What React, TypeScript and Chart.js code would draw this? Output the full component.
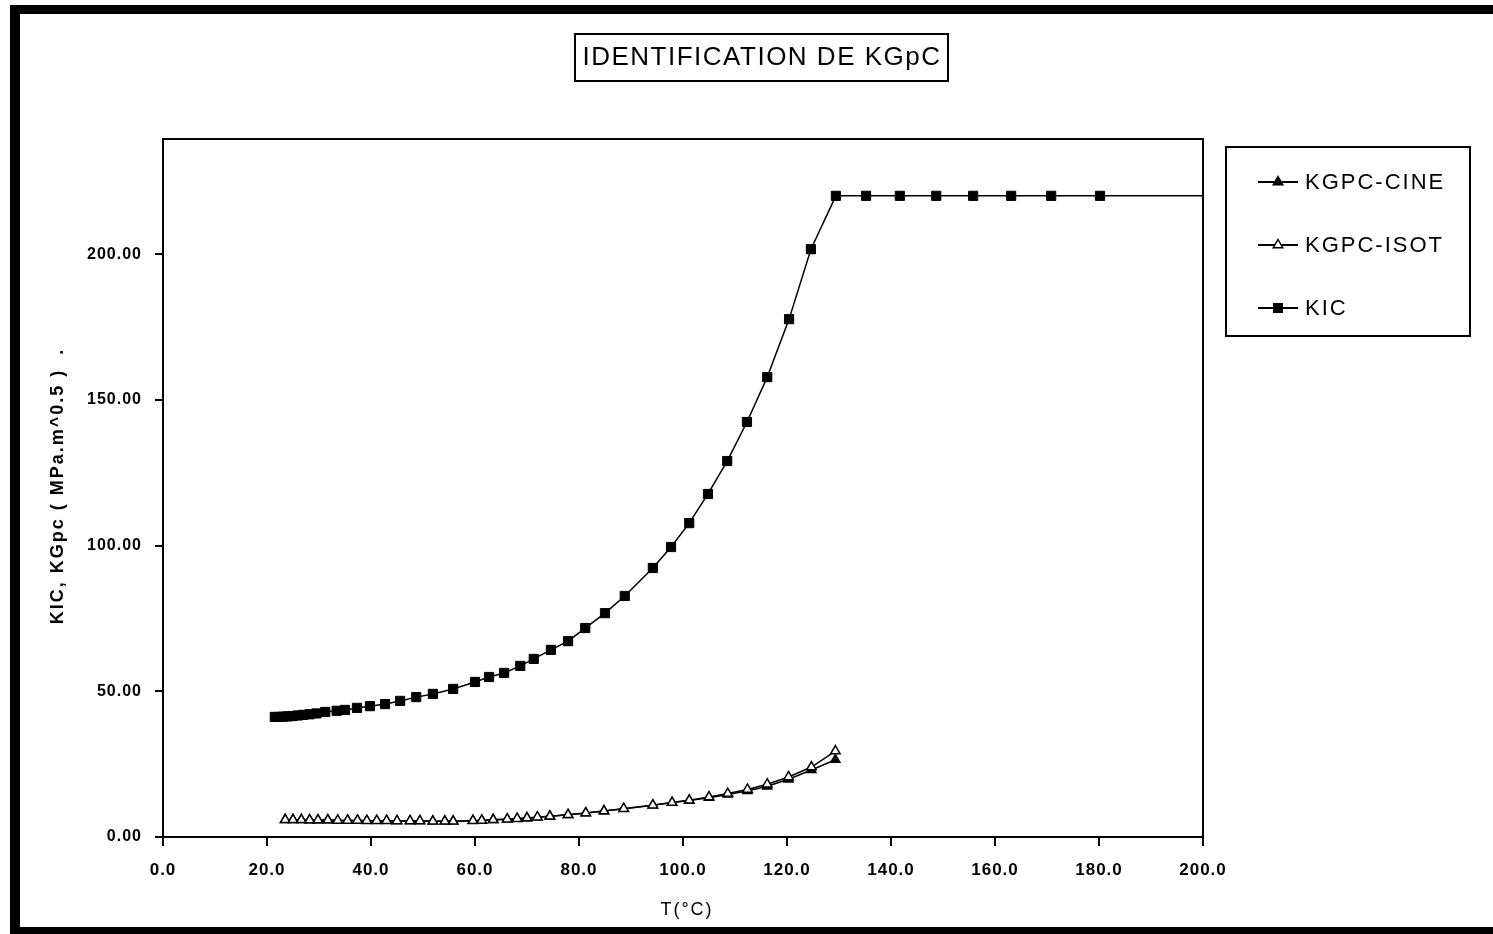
import React, { useEffect, useRef } from 'react';
import { Chart, registerables } from 'chart.js';

Chart.register(...registerables);

const chartTitle = 'IDENTIFICATION DE KGpC';
const xTitle = 'T(°C)';
const yTitle = 'KIC, KGpc ( MPa.m^0.5 )  .';
const legendLabels = ['KGPC-CINE', 'KGPC-ISOT', 'KIC'];

const kicT = [21.5, 22.3, 23.1, 24.0, 24.9, 25.9, 27.0, 28.2, 29.5, 31.2, 33.4, 35.0, 37.3, 39.8, 42.7, 45.6, 48.7, 51.9, 55.8, 60.0, 62.7, 65.6, 68.7, 71.3, 74.6, 77.9, 81.2, 85.0, 88.8, 94.2, 97.7, 101.2, 104.8, 108.5, 112.3, 116.2, 120.4, 124.6, 129.4, 135.2, 141.7, 148.7, 155.8, 163.1, 170.8, 180.2, 210];
const kicV = [41.2, 41.2, 41.3, 41.4, 41.5, 41.7, 41.9, 42.1, 42.4, 42.9, 43.3, 43.6, 44.3, 44.9, 45.6, 46.7, 48.0, 49.1, 50.8, 53.2, 54.9, 56.3, 58.7, 61.1, 64.2, 67.2, 71.7, 76.8, 82.7, 92.3, 99.5, 107.7, 117.7, 129.0, 142.4, 157.8, 177.7, 201.7, 220.0, 220.0, 220.0, 220.0, 220.0, 220.0, 220.0, 220.0, 220.0];

const kgpcT = [23.5, 25.0, 26.6, 28.2, 29.8, 31.7, 33.6, 35.5, 37.4, 39.2, 41.1, 43.0, 45.0, 47.5, 49.4, 51.9, 54.2, 55.8, 59.6, 61.3, 63.5, 66.2, 68.1, 70.0, 72.0, 74.4, 77.9, 81.3, 84.8, 88.6, 94.2, 97.9, 101.2, 105.0, 108.6, 112.4, 116.2, 120.3, 124.7, 129.3];
const isotV = [5.9, 5.9, 5.9, 5.8, 5.8, 5.8, 5.7, 5.7, 5.7, 5.6, 5.6, 5.6, 5.5, 5.5, 5.5, 5.4, 5.4, 5.4, 5.6, 5.7, 5.9, 6.1, 6.3, 6.5, 6.8, 7.1, 7.6, 8.2, 8.9, 9.7, 10.9, 11.8, 12.6, 13.7, 14.9, 16.3, 18.1, 20.6, 24.0, 29.5];
const cineV = [5.9, 5.9, 5.9, 5.8, 5.8, 5.8, 5.7, 5.7, 5.7, 5.6, 5.6, 5.6, 5.5, 5.5, 5.5, 5.4, 5.4, 5.4, 5.6, 5.7, 5.9, 6.1, 6.3, 6.5, 6.8, 7.1, 7.6, 8.2, 8.9, 9.7, 10.9, 11.8, 12.5, 13.5, 14.6, 15.8, 17.4, 19.8, 23.0, 26.5];

const FONT = '"Liberation Sans", Arial, sans-serif';

function drawMarker(ctx: CanvasRenderingContext2D, kind: string, x: number, y: number, r: number) {
  ctx.beginPath();
  if (kind === 'rect') {
    const s = Math.SQRT1_2 * r;
    ctx.rect(x - s, y - s, 2 * s, 2 * s);
    ctx.fillStyle = '#000';
    ctx.fill();
    ctx.stroke();
  } else {
    ctx.moveTo(x, y - r);
    ctx.lineTo(x + 0.866 * r, y + 0.5 * r);
    ctx.lineTo(x - 0.866 * r, y + 0.5 * r);
    ctx.closePath();
    ctx.fillStyle = kind === 'triFilled' ? '#000' : '#fff';
    ctx.fill();
    ctx.stroke();
  }
}

const decorPlugin = {
  id: 'decor',
  beforeDraw(chart: any) {
    (chart.ctx as any).letterSpacing = '1px';
  },
  afterDraw(chart: any) {
    const ctx = chart.ctx as CanvasRenderingContext2D;
    const a = chart.chartArea;
    ctx.save();
    ctx.strokeStyle = '#000';
    ctx.fillStyle = '#000';
    ctx.lineWidth = 2;
    ctx.strokeRect(a.left, a.top, a.right - a.left, a.bottom - a.top);

    // axis titles
    ctx.textAlign = 'center';
    ctx.textBaseline = 'middle';
    (ctx as any).letterSpacing = '2px';
    ctx.font = `18px ${FONT}`;
    ctx.fillText(xTitle, (a.left + a.right) / 2 + 4, 910);
    ctx.save();
    ctx.translate(58, (a.top + a.bottom) / 2 - 2);
    ctx.rotate(-Math.PI / 2);
    ctx.font = `bold 18px ${FONT}`;
    ctx.fillText(yTitle, 0, 0);
    ctx.restore();

    // title box
    ctx.strokeRect(575, 34, 373, 47);
    (ctx as any).letterSpacing = '1.5px';
    ctx.font = `26px ${FONT}`;
    ctx.fillText(chartTitle, 762, 58);

    // legend box
    ctx.strokeRect(1226, 147, 244, 189);
    const kinds = ['triFilled', 'triOpen', 'rect'];
    const ys = [182, 245, 308];
    ctx.font = `22px ${FONT}`;
    (ctx as any).letterSpacing = '2px';
    ctx.textAlign = 'left';
    for (let i = 0; i < legendLabels.length; i++) {
      const y = ys[i];
      ctx.lineWidth = 2;
      ctx.beginPath();
      ctx.moveTo(1258, y);
      ctx.lineTo(1298, y);
      ctx.stroke();
      ctx.lineWidth = 1.5;
      drawMarker(ctx, kinds[i], 1278, y, kinds[i] === 'rect' ? 6 : 5.5);
      ctx.fillStyle = '#000';
      ctx.fillText(legendLabels[i], 1305, y + 1);
    }
    ctx.restore();
    (ctx as any).letterSpacing = '0px';
  },
};

export default function App() {
  const ref = useRef<HTMLCanvasElement | null>(null);

  useEffect(() => {
    if (!ref.current) return;
    const chart = new Chart(ref.current, {
      type: 'line',
      data: {
        datasets: [
          {
            label: legendLabels[0],
            data: kgpcT.map((t, i) => ({ x: t, y: cineV[i] })),
            borderColor: '#000',
            backgroundColor: '#000',
            borderWidth: 1.5,
            pointStyle: 'triangle',
            pointRadius: 5.5,
            pointBorderWidth: 1.2,
            pointBackgroundColor: '#000',
            pointBorderColor: '#000',
            order: 2,
          },
          {
            label: legendLabels[1],
            data: kgpcT.map((t, i) => ({ x: t, y: isotV[i] })),
            borderColor: '#000',
            backgroundColor: '#fff',
            borderWidth: 1.5,
            pointStyle: 'triangle',
            pointRadius: 5.5,
            pointBorderWidth: 1.5,
            pointBackgroundColor: '#fff',
            pointBorderColor: '#000',
            order: 1,
          },
          {
            label: legendLabels[2],
            data: kicT.map((t, i) => ({ x: t, y: kicV[i] })),
            borderColor: '#000',
            backgroundColor: '#000',
            borderWidth: 1.5,
            pointStyle: 'rect',
            pointRadius: 6.5,
            pointBorderWidth: 1,
            pointBackgroundColor: '#000',
            pointBorderColor: '#000',
            order: 0,
          },
        ],
      },
      options: {
        animation: false,
        responsive: false,
        devicePixelRatio: 1,
        events: [],
        layout: { padding: { left: 45, top: 139, right: 290, bottom: 11 } },
        plugins: {
          legend: { display: false },
          title: { display: false },
          tooltip: { enabled: false },
        },
        scales: {
          x: {
            type: 'linear',
            min: 0,
            max: 200,
            afterFit: (s: any) => { s.height = 86; },
            border: { display: true, color: '#000', width: 2 },
            grid: { drawOnChartArea: false, drawTicks: true, tickLength: 9, color: '#000', lineWidth: 2 },
            ticks: {
              stepSize: 20,
              autoSkip: false,
              maxRotation: 0,
              padding: 14,
              color: '#000',
              font: { family: FONT, size: 17, weight: 'bold' },
              callback: (v: any) => Number(v).toFixed(1),
            },
            title: { display: false },
          },
          y: {
            type: 'linear',
            min: 0,
            max: 239.5,
            afterFit: (s: any) => { s.width = 118; },
            border: { display: true, color: '#000', width: 2 },
            grid: { drawOnChartArea: false, drawTicks: true, tickLength: 8, color: '#000', lineWidth: 2 },
            ticks: {
              stepSize: 50,
              includeBounds: false,
              padding: 13,
              color: '#000',
              font: { family: FONT, size: 16, weight: 'bold' },
              callback: (v: any) => Number(v).toFixed(2),
            },
            title: { display: false },
          },
        },
      },
      plugins: [decorPlugin],
    } as any);
    return () => chart.destroy();
  }, []);

  return (
    <div style={{ position: 'absolute', left: 0, top: 0, width: 1493, height: 934, background: '#fff', overflow: 'hidden' }}>
      <div
        style={{
          position: 'absolute',
          left: 10,
          top: 5,
          width: 1483,
          height: 929,
          boxSizing: 'border-box',
          borderTop: '9px solid #000',
          borderLeft: '10px solid #000',
          borderBottom: '7px solid #000',
        }}
      />
      <canvas ref={ref} width={1493} height={934} style={{ position: 'absolute', left: 0, top: 0 }} />
    </div>
  );
}
